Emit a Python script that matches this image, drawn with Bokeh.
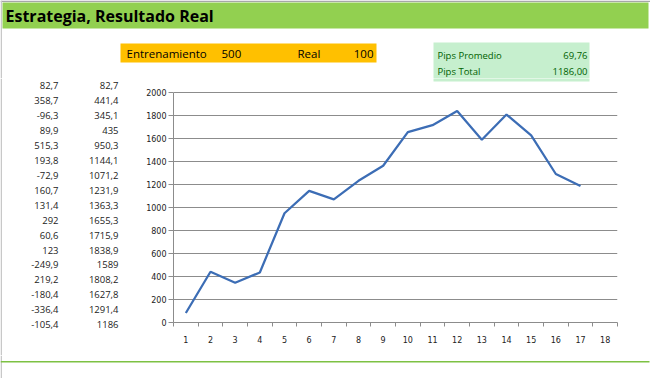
from bokeh.plotting import figure
from bokeh.models import Label, FixedTicker, Range1d, Plot
from bokeh.layouts import column, row
from bokeh.embed import file_html
from bokeh.resources import INLINE

# ---- data ----
trades = [82.7, 358.7, -96.3, 89.9, 515.3, 193.8, -72.9, 160.7, 131.4,
          292, 60.6, 123, -249.9, 219.2, -180.4, -336.4, -105.4]
cumulative = [82.7, 441.4, 345.1, 435, 950.3, 1144.1, 1071.2, 1231.9, 1363.3,
              1655.3, 1715.9, 1838.9, 1589, 1808.2, 1627.8, 1291.4, 1186]
trade_numbers = list(range(1, 18))
x_categories = list(range(1, 19))
y_ticks = list(range(0, 2001, 200))
title_text = "Estrategia, Resultado Real"
training_label, training_value = "Entrenamiento", "500"
real_label, real_value = "Real", "100"
avg_label, avg_value = "Pips Promedio", "69,76"
total_label, total_value = "Pips Total", "1186,00"


def fmt(v):
    return f"{v:g}".replace(".", ",")


# ---- page geometry (pixels) ----
W, H = 650, 378
TOP_H = 78          # header strip: y 0..78
MID_H = 277         # middle strip: y 78..355
BOT_H = H - TOP_H - MID_H
LEFT_W = 135        # value columns
CHART_W = W - LEFT_W
FRAME_L, FRAME_R, FRAME_T, FRAME_B = 173, 617, 92, 322
Y_MAX = y_ticks[-1]

GRAY = "#8c8c8c"
BORDER = "#c8c8c8"
SUMMARY_BG = "#C6EFCE"
HAS_FRAME_ALIGN = "frame_align" in Plot.properties()


def no_align(f):
    if HAS_FRAME_ALIGN:
        f.frame_align = False


def canvas(w, h):
    f = figure(frame_width=w, frame_height=h,
               x_range=Range1d(0, w), y_range=Range1d(h, 0),
               output_backend="svg", toolbar_location=None,
               x_axis_type=None, y_axis_type=None, min_border=0)
    f.outline_line_color = None
    f.background_fill_color = "white"
    f.border_fill_color = "white"
    no_align(f)
    return f


def rect(f, l, t, r, b, color, **kw):
    f.quad(left=[l], right=[r], top=[t], bottom=[b], fill_color=color,
           line_color=None, **kw)


def label(f, x, y, text, size, align="left", color="black",
          font="Open Sans", style="normal"):
    f.add_layout(Label(x=x, y=y, text=text, text_align=align,
                       text_baseline="middle", text_font=font,
                       text_font_size=size, text_color=color,
                       text_font_style=style))


# ---- header strip ----
top = canvas(W, TOP_H)
rect(top, 0, 0, W, 1.5, "#a6a6a6")
rect(top, 0, 0, 1.5, TOP_H, BORDER)
rect(top, 2, 2, 648, 28, "#92D050")
label(top, 5, 15.5, title_text, "16px", style="bold")

rect(top, 120, 43, 376, 62, "#FFC000")
label(top, 126, 53, training_label, "11.5px")
label(top, 221, 53, training_value, "11.5px")
label(top, 297, 53, real_label, "11.5px")
label(top, 373, 53, real_value, "11.5px", align="right")

rect(top, 433, 42, 589, 81, SUMMARY_BG)
label(top, 437, 55, avg_label, "9.5px", color="#006100")
label(top, 587, 55, avg_value, "9.5px", align="right", color="#006100")
label(top, 437, 71, total_label, "9.5px", color="#006100")
label(top, 587, 71, total_value, "9.5px", align="right", color="#006100")

# ---- left value columns ----
left = canvas(LEFT_W, MID_H)
rect(left, 0, 0, 1.5, MID_H, BORDER)
for i, (t, c) in enumerate(zip(trades, cumulative)):
    yy = 85.2 + i * 14.94 - TOP_H
    label(left, 58, yy, fmt(t), "9.5px", align="right", color="#222222")
    label(left, 118, yy, fmt(c), "9.5px", align="right", color="#222222")

# ---- chart ----
px_per_unit = (FRAME_B - FRAME_T) / Y_MAX
y_top = Y_MAX + (FRAME_T - TOP_H) / px_per_unit   # frame reaches up to the header strip
p = figure(width=CHART_W, height=MID_H, output_backend="svg",
           toolbar_location=None, x_range=(0.5, 18.5),
           y_range=Range1d(0, y_top),
           min_border_left=FRAME_L - LEFT_W, min_border_right=W - FRAME_R,
           min_border_top=0,
           min_border_bottom=TOP_H + MID_H - FRAME_B)
p.outline_line_color = None
p.background_fill_color = "white"
p.border_fill_color = "white"
no_align(p)

# page-pixel coordinate system inside the chart frame (for the header overhang)
p.extra_x_ranges = {"px": Range1d(FRAME_L, FRAME_R)}
p.extra_y_ranges = {"py": Range1d(FRAME_B, TOP_H)}
p.quad(left=[433], right=[589], top=[TOP_H - 1], bottom=[81],
       fill_color=SUMMARY_BG, line_color=None,
       x_range_name="px", y_range_name="py")

AX_FONT = "DejaVu Sans"
xa = p.xaxis[0]
xa.ticker = FixedTicker(ticks=x_categories,
                        minor_ticks=[c - 0.5 for c in x_categories] + [x_categories[-1] + 0.5])
xa.axis_line_color = GRAY
xa.major_tick_out = 0
xa.major_tick_in = 0
xa.minor_tick_out = 4
xa.minor_tick_in = 0
xa.minor_tick_line_color = GRAY
xa.major_label_standoff = 9
xa.major_label_text_font = AX_FONT
xa.major_label_text_font_size = "8px"
xa.major_label_text_color = "#222222"

ya = p.yaxis[0]
ya.bounds = (0, Y_MAX)
ya.ticker = FixedTicker(ticks=y_ticks, minor_ticks=[])
ya.axis_line_color = GRAY
ya.major_tick_out = 5
ya.major_tick_in = 0
ya.major_tick_line_color = GRAY
ya.minor_tick_out = 0
ya.minor_tick_in = 0
ya.major_label_standoff = 2
ya.major_label_text_font = AX_FONT
ya.major_label_text_font_size = "8px"
ya.major_label_text_color = "#222222"

p.xgrid.visible = False
p.ygrid.grid_line_color = GRAY
p.ygrid.grid_line_width = 1

p.line(trade_numbers, cumulative, line_color="#3C6DB5", line_width=2.25)

# ---- bottom strip ----
bottom = canvas(W, BOT_H)
rect(bottom, 0, 0, 1.5, BOT_H, BORDER)
rect(bottom, 0, 5.5, 649, 7, "#7DC143")

page = column(top, row(left, p), bottom)
open("out.html", "w").write(file_html(page, INLINE))
